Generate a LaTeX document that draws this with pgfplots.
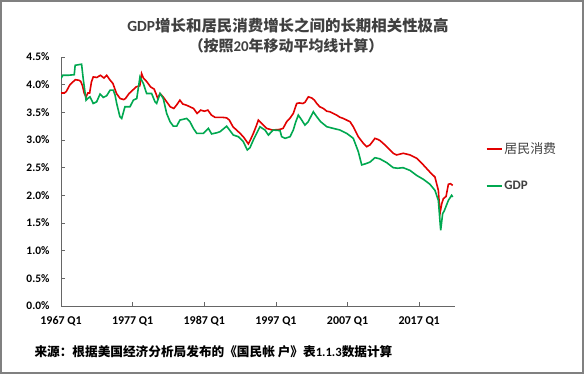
\documentclass[border=0pt]{standalone}
\usepackage{fontspec}
\setmainfont{Carlito}
\newfontfamily\cjk{Noto Sans CJK SC}
\usepackage{pgfplots}
\pgfplotsset{compat=1.18}
\definecolor{cred}{RGB}{226,0,0}
\definecolor{cgreen}{RGB}{0,168,80}
\definecolor{ttl}{RGB}{64,64,64}
\begin{document}
\begin{tikzpicture}[x=1bp,y=1bp]
\path[use as bounding box] (0,0) rectangle (584,374);
\fill[white] (0,0) rectangle (584,374);
\draw[black!50, line width=2bp] (1,1) rectangle (583,373);
\node[text=ttl, font=\fontsize{15.5}{18}\selectfont\bfseries] at (288,348) {GDP{\cjk 增长和居民消费增长之间的长期相关性极高}};
\node[text=ttl, font=\fontsize{15}{18}\selectfont\bfseries] at (286,328) {{\cjk （按照}20{\cjk 年移动平均线计算）}};
\node[anchor=west, font=\fontsize{12.7}{15}\selectfont\bfseries] at (31,22) {{\cjk 来源：根据美国经济分析局发布的《国民帐 户》表}1.1.3{\cjk 数据计算}};
\begin{axis}[
  at={(61bp,68bp)}, anchor=south west,
  width=394bp, height=249bp, scale only axis,
  xmin=0, xmax=220, ymin=0, ymax=4.5,
  axis lines=left, axis line style={-, black!60, line width=0.75bp},
  xtick={0,40,80,120,160,200},
  xticklabels={1967 Q1,1977 Q1,1987 Q1,1997 Q1,2007 Q1,2017 Q1},
  ytick={0,0.5,1,1.5,2,2.5,3,3.5,4,4.5},
  yticklabel={\pgfmathprintnumber[fixed,fixed zerofill,precision=1]{\tick}\%},
  /pgf/number format/assume math mode=true,
  tick align=inside, major tick length=4bp,
  tick style={black!60, line width=0.75bp},
  yticklabel style={font=\fontsize{11.5}{13}\selectfont\bfseries, xshift=-8bp},
  xticklabel style={font=\fontsize{12}{14}\selectfont\bfseries, yshift=-7bp},
  legend style={at={(1.07,0.672)}, anchor=north west, draw=none, fill=none,
    row sep=22bp, font=\fontsize{13}{15}\selectfont, text=ttl,
    cells={anchor=west}},
  legend image code/.code={\draw[#1, line width=1.6bp] (0bp,0bp) -- (15bp,0bp);},
]
\addplot[cred, line width=1.6bp] coordinates {
(0,3.85) (2,3.85) (3,3.88) (5,4.00) (8,4.09) (10,4.08) (11,4.06) (12,3.98)
(13,3.84) (14,3.78) (15,3.85) (16,3.85) (17,4.05) (18,4.14) (20,4.13) (22,4.17)
(24,4.12) (25.5,4.17) (27,4.10) (29,4.02) (31,3.84) (33,3.75) (35,3.73) (36,3.75)
(38,3.84) (40,3.90) (42,3.96) (44,3.98) (45,4.20) (46,4.12) (48,4.05) (50,3.96)
(52,3.92) (53,3.84) (54,3.75) (55.3,3.84) (57,3.78) (59,3.69) (61,3.60) (63,3.57)
(64.5,3.63) (66.4,3.72) (68,3.65) (70,3.63) (72,3.60) (74,3.57) (76,3.48) (78,3.54)
(80,3.52) (82,3.54) (84,3.45) (86,3.41) (90,3.41) (92.5,3.40) (94,3.36) (96,3.24)
(100,3.12) (102,3.05) (104.6,2.93) (106,3.02) (107.4,3.12) (109,3.25) (110.2,3.36) (112,3.30)
(114.8,3.21) (118,3.18) (122,3.19) (124,3.21) (126,3.33) (128,3.40) (129.7,3.48) (131.6,3.66)
(133,3.67) (135,3.66) (136.2,3.68) (138.1,3.78) (140,3.76) (141.5,3.72) (142.8,3.66) (144.5,3.60)
(146.5,3.57) (148.4,3.52) (150.2,3.51) (152,3.48) (153.9,3.45) (155.8,3.41) (157.6,3.39) (159.5,3.36)
(161.4,3.33) (163.2,3.24) (166,3.06) (168.8,2.94) (170.7,2.88) (172.5,2.91) (175.3,3.03) (177,3.01)
(178.1,2.99) (180.9,2.91) (183.7,2.82) (185.5,2.76) (187.4,2.73) (191.1,2.76) (194.9,2.73) (198.6,2.67)
(202.3,2.55) (206,2.42) (208.8,2.33) (210.7,2.09) (211.6,1.67) (212.6,1.85) (213.5,1.94) (215,1.98)
(216.3,2.20) (217.5,2.21) (218.7,2.18)
};
\addlegendentry{{\cjk 居民消费}}
\addplot[cgreen, line width=1.6bp] coordinates {
(0,4.11) (1,4.17) (4,4.17) (7.4,4.18) (7.9,4.35) (11.5,4.37) (12.5,4.08) (14,3.72)
(15.3,3.76) (16.2,3.78) (18,3.66) (19.9,3.69) (21.8,3.83) (23.6,3.77) (25.5,3.80) (27.4,3.90)
(29.2,3.90) (30.2,3.81) (31.1,3.66) (32.9,3.42) (33.9,3.39) (35.7,3.60) (38.5,3.60) (40.4,3.72)
(42.3,3.75) (44.1,4.14) (46,4.02) (47.8,3.84) (50.6,3.84) (52.5,3.69) (53.4,3.66) (55.3,3.84)
(57.1,3.75) (59,3.48) (60.9,3.33) (62.7,3.25) (64.6,3.25) (66.4,3.36) (70.2,3.39) (72,3.33)
(73.9,3.21) (75.8,3.12) (79.5,3.12) (82.3,3.21) (84.1,3.11) (86.9,3.13) (88.8,3.15) (92.5,3.25)
(96.2,3.09) (99,3.06) (101.8,2.97) (104,2.82) (105.5,2.86) (107.4,3.00) (111.1,3.24) (113.9,3.18)
(115.8,3.09) (118.5,3.18) (122.3,3.17) (123.2,3.06) (125.1,3.03) (127.9,3.06) (129.7,3.18) (131,3.32)
(132.5,3.45) (134,3.38) (136.2,3.27) (138,3.33) (140.9,3.51) (142.8,3.42) (145,3.33) (148.4,3.24)
(152,3.21) (155.8,3.18) (159.5,3.12) (163.2,3.03) (166,2.79) (167.9,2.55) (170,2.57) (172.5,2.60)
(175.3,2.68) (178,2.66) (181.9,2.59) (185.5,2.50) (188,2.49) (191,2.50) (194.9,2.45) (198.6,2.36)
(202.3,2.29) (206,2.20) (208.8,2.09) (210.7,1.91) (212,1.37) (213.1,1.67) (214,1.72) (216.3,1.91)
(218.1,2.00) (218.7,1.97)
};
\addlegendentry{\bfseries GDP}
\end{axis}
\end{tikzpicture}
\end{document}
